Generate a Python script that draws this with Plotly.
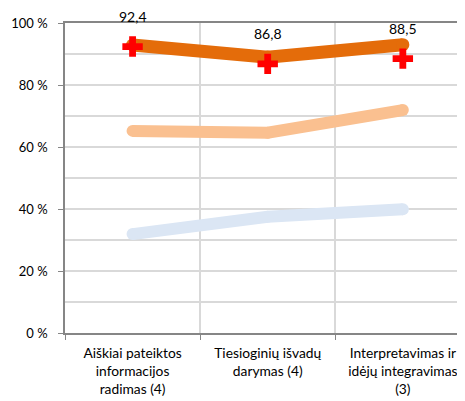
import plotly.graph_objects as go

categories = ["Aiškiai pateiktos<br>informacijos<br>radimas (4)",
              "Tiesioginių išvadų<br>darymas (4)",
              "Interpretavimas ir<br>idėjų integravimas<br>(3)"]
series_dark = [92.9, 89.0, 93.0]
series_light = [65.2, 64.6, 71.9]
series_blue = [31.9, 37.5, 39.9]
series_red = [92.4, 86.8, 88.5]
red_labels = ["92,4", "86,8", "88,5"]
y_ticks = [0, 20, 40, 60, 80, 100]
y_tick_labels = ["0 %", "20 %", "40 %", "60 %", "80 %", "100 %"]

x = list(range(len(categories)))
FONT = "Lato"

fig = go.Figure()
for vals, color, w in [(series_blue, "#DBE6F4", 12),
                       (series_light, "#FAC090", 12),
                       (series_dark, "#E46C0A", 13)]:
    fig.add_trace(go.Scatter(x=x, y=vals, mode="lines+markers",
                             line=dict(color=color, width=w),
                             marker=dict(color=color, size=w, line=dict(width=0)),
                             hoverinfo="skip"))
fig.add_trace(go.Scatter(x=x, y=series_red, mode="markers",
                         marker=dict(symbol="cross", color="#FF0000", size=17,
                                     line=dict(width=0))))

for xi, yi, t in zip(x, series_red, red_labels):
    fig.add_annotation(x=xi, y=yi, text=t, showarrow=False, yshift=30,
                       font=dict(family=FONT, size=14, color="#000000"))

# page body has an 8px margin, so the figure is shifted by 8px
fig.update_layout(
    width=457, height=393,
    margin=dict(l=57, r=0, t=15, b=68),
    paper_bgcolor="white", plot_bgcolor="white",
    showlegend=False,
    font=dict(family=FONT, size=13, color="#000000"),
)
fig.update_xaxes(
    range=[-0.5, 2.46], tickmode="array", tickvals=x, ticktext=categories,
    showgrid=False, ticks="", tickfont=dict(size=13.8), ticklabelstandoff=7,
    showline=True, linecolor="#868686", linewidth=1.5, mirror=True,
    minor=dict(tickmode="array", tickvals=[-0.5, 0.5, 1.5, 2.5], showgrid=True,
               gridcolor="#D9D9D9", gridwidth=1.5, ticks="outside", ticklen=5,
               tickcolor="#868686"),
    zeroline=False,
)
fig.update_yaxes(
    range=[0, 100], tickmode="array", tickvals=y_ticks, ticktext=y_tick_labels,
    showgrid=True, gridcolor="#D9D9D9", gridwidth=1.5,
    ticks="outside", ticklen=5, tickcolor="#868686", ticklabelstandoff=8,
    showline=True, linecolor="#868686", linewidth=1.5,
    minor=dict(tickmode="array", tickvals=[10, 30, 50, 70, 90], showgrid=True,
               gridcolor="#D9D9D9", gridwidth=1.5, ticks=""),
    zeroline=False, tickfont=dict(size=13),
)

fig.write_html("out.html")
